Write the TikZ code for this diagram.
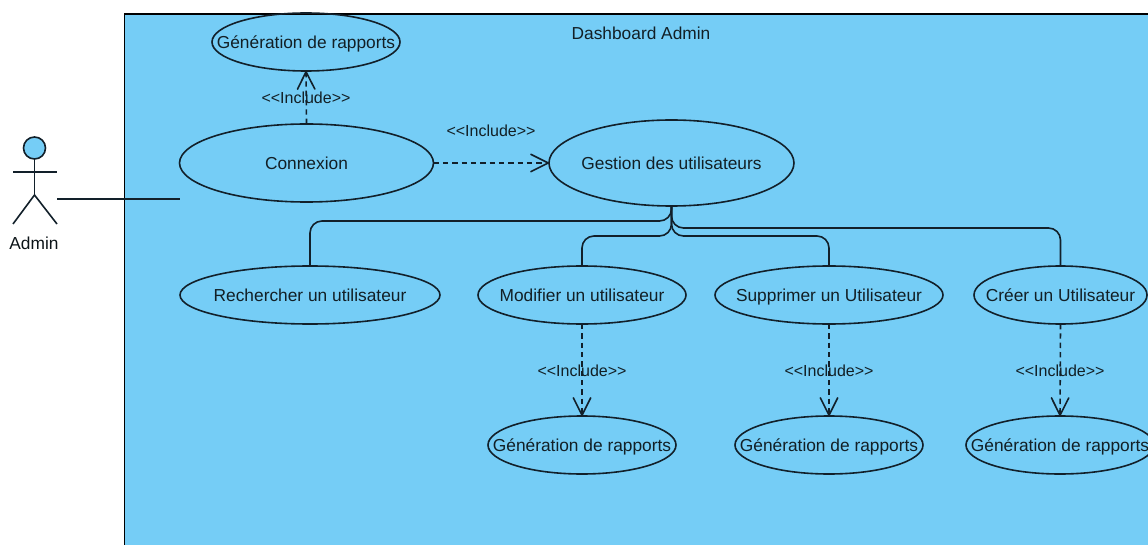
\documentclass[tikz,border=0pt]{standalone}
\usepackage{fontspec}
\setmainfont{Liberation Sans}
\usetikzlibrary{shapes.geometric,arrows.meta}
\definecolor{panelblue}{HTML}{75CDF6}
\definecolor{inkdark}{HTML}{12202A}
\newcommand{\uctext}[1]{\raisebox{-.36em}[0pt][0pt]{\makebox[0pt]{#1}}}
\newcommand{\inctext}{<{}<Include>{}>}
\tikzset{
  usecase/.style={ellipse,draw=inkdark,line width=1.2pt,inner sep=0pt,outer sep=0pt,
    minimum height=43.5pt,font=\fontsize{13}{15}\selectfont,text=black!85!panelblue},
  inclabel/.style={font=\fontsize{12}{14}\selectfont,text=black!85!panelblue,inner sep=0pt},
  assoc/.style={draw=inkdark,line width=1.2pt,rounded corners=9pt},
  incl/.style={draw=inkdark,line width=1.2pt,dash pattern=on 4pt off 3pt,
    -{Straight Barb[length=13pt,width=13pt,line width=1.2pt,round]}},
  stick/.style={draw=inkdark,line width=1.2pt}
}
\begin{document}
\begin{tikzpicture}[x=.75pt,y=-.75pt]
\clip (0,0) rectangle (1148,545);
% panel
\draw[fill=panelblue,draw=black,line width=1.2pt] (124.5,14) rectangle (1160,560);
\node[font=\fontsize{13}{15}\selectfont,text=black!85!panelblue,inner sep=0pt] (title) at (641,33) {Dashboard Admin};
% actor
\node[circle,draw=inkdark,fill=panelblue,line width=1.2pt,minimum size=16.5pt,inner sep=0pt] (head) at (34.5,148) {};
\coordinate (hip) at (34.5,195);
\coordinate (armL) at (13,172);
\coordinate (armR) at (57,172);
\coordinate (legL) at (13,224);
\coordinate (legR) at (57,224);
\draw[stick] (head.south) -- (hip);
\draw[stick] (armL) -- (armR);
\draw[stick] (legL) -- (hip) -- (legR);
\node[font=\fontsize{13}{15}\selectfont,text=black!90!panelblue,inner sep=0pt] (admin) at (34,243) {Admin};
% use cases
\node[usecase,minimum width=141pt] (genTop) at (306,42) {\uctext{Génération de rapports}};
\node[usecase,minimum width=190.5pt,minimum height=58.5pt] (connexion) at (306.5,163) {\uctext{Connexion}};
\node[usecase,minimum width=183.75pt,minimum height=64.5pt] (gestion) at (671.5,163) {\uctext{Gestion des utilisateurs}};
\node[usecase,minimum width=195pt] (recherche) at (310,295) {\uctext{Rechercher un utilisateur}};
\node[usecase,minimum width=156pt] (modifier) at (582,295) {\uctext{Modifier un utilisateur}};
\node[usecase,minimum width=171pt] (supprimer) at (829,295) {\uctext{Supprimer un Utilisateur}};
\node[usecase,minimum width=129.75pt] (creer) at (1060.5,295) {\uctext{Créer un Utilisateur}};
\node[usecase,minimum width=141pt] (genMod) at (582,445) {\uctext{Génération de rapports}};
\node[usecase,minimum width=141pt] (genSup) at (829,445) {\uctext{Génération de rapports}};
\node[usecase,minimum width=141pt] (genCre) at (1060,445) {\uctext{Génération de rapports}};
% actor link
\coordinate (linkA) at (57,199);
\coordinate (linkB) at (180,199);
\draw[stick] (linkA) -- (linkB);
% includes
\draw[incl] (connexion.north) -- (genTop.south);
\draw[incl] (connexion.east) -- (gestion.west);
\draw[incl] (modifier.south) -- (genMod.north);
\draw[incl] (supprimer.south) -- (genSup.north);
\draw[incl] (creer.south) -- (genCre.north);
\node[inclabel] (inc1) at (306,98) {\inctext};
\node[inclabel] (inc2) at (491,131) {\inctext};
\node[inclabel] (inc3) at (582,371) {\inctext};
\node[inclabel] (inc4) at (829,371) {\inctext};
\node[inclabel] (inc5) at (1060,371) {\inctext};
% links from gestion
\draw[assoc] (gestion.south) -- ++(0,15) -| (recherche.north);
\draw[assoc] (gestion.south) -- ++(0,30) -| (modifier.north);
\draw[assoc] (gestion.south) -- ++(0,30) -| (supprimer.north);
\draw[assoc] (gestion.south) -- ++(0,22) -| (creer.north);
\end{tikzpicture}
\end{document}
